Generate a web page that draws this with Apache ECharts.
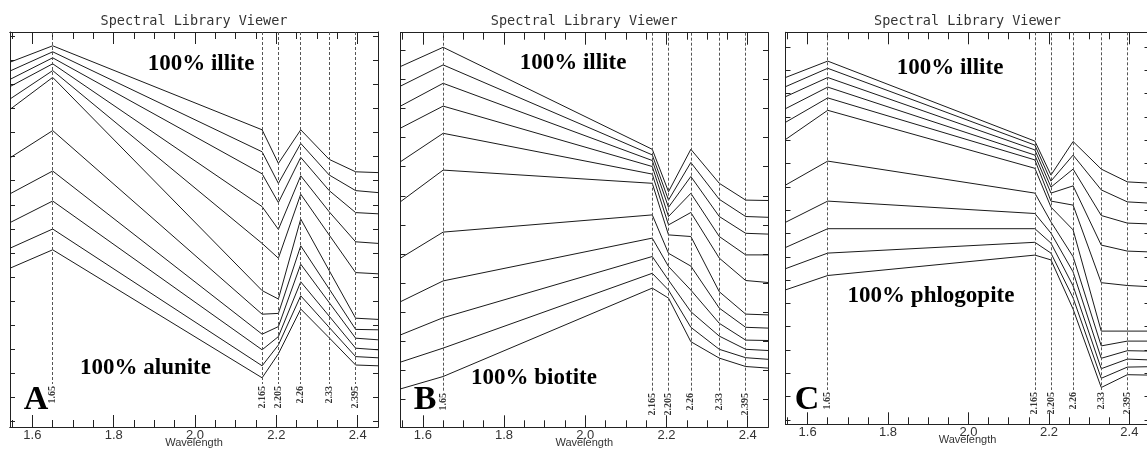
<!DOCTYPE html>
<html>
<head>
<meta charset="utf-8">
<script src="https://cdn.jsdelivr.net/npm/echarts@6.0.0/dist/echarts.min.js"></script>
<style>
  html, body { margin: 0; padding: 0; background: #fff; }
  #chart { width: 1147px; height: 450px; }
</style>
</head>
<body>
<div id="chart"></div>
<script>
/* ================= 数据 ================= */
// sample wavelengths (µm); first / last are where the spectra leave the frame
const wavelengths = [1.545, 1.65, 2.165, 2.205, 2.26, 2.33, 2.395, 2.45];
const bands = [1.65, 2.165, 2.205, 2.26, 2.33, 2.395];
const bandLabels = ["1.65", "2.165", "2.205", "2.26", "2.33", "2.395"];
const xTickLabels = [1.6, 1.8, 2.0, 2.2, 2.4];
const xMinorTicks = [1.55, 1.6, 1.65, 1.7, 1.75, 1.8, 1.85, 1.9, 1.95, 2.0,
  2.05, 2.1, 2.15, 2.2, 2.25, 2.3, 2.35, 2.4];

// 100% illite (top) -> 100% alunite (bottom), 10% steps, stacked reflectance (arb.)
const illiteAlunite = [
  [91.2, 95.3, 74.3, 65.9, 74.3, 66.9, 63.8, 63.6],
  [89.0, 93.8, 68.8, 60.9, 70.9, 63.0, 59.1, 58.6],
  [86.9, 92.3, 63.3, 56.1, 67.4, 59.1, 53.6, 53.3],
  [85.1, 90.8, 55.1, 49.4, 62.8, 53.8, 46.3, 45.9],
  [82.0, 89.1, 45.9, 42.2, 58.2, 48.0, 38.6, 38.3],
  [79.4, 87.4, 34.1, 32.0, 52.0, 39.1, 27.2, 26.9],
  [67.3, 74.1, 28.2, 28.4, 45.3, 34.5, 24.4, 24.3],
  [58.3, 64.0, 23.2, 25.1, 40.7, 31.1, 22.2, 21.8],
  [51.1, 56.5, 19.3, 22.6, 36.3, 27.7, 19.7, 19.3],
  [44.7, 49.5, 15.3, 20.5, 32.8, 24.9, 17.6, 17.3],
  [39.7, 44.3, 12.3, 18.3, 29.5, 22.3, 15.5, 15.3],
];

// 100% illite -> 100% biotite
const illiteBiotite = [
  [90.2, 95.0, 69.5, 58.9, 69.5, 61.0, 56.8, 56.7],
  [85.3, 90.6, 68.1, 56.8, 66.2, 57.0, 52.7, 52.5],
  [80.3, 86.0, 66.7, 55.0, 62.7, 52.7, 48.5, 48.3],
  [74.8, 80.3, 65.2, 52.7, 58.5, 47.7, 43.1, 43.1],
  [66.4, 73.5, 63.3, 50.6, 53.7, 42.3, 36.7, 36.2],
  [56.4, 64.3, 61.0, 48.1, 47.7, 33.9, 28.3, 28.1],
  [42.3, 48.8, 53.1, 43.5, 40.3, 29.8, 25.0, 24.8],
  [31.4, 36.6, 47.3, 40.2, 34.3, 26.0, 21.8, 21.7],
  [23.1, 27.4, 42.7, 36.8, 28.9, 22.8, 19.5, 19.2],
  [16.3, 19.8, 38.5, 34.3, 25.0, 19.5, 17.4, 17.0],
  [9.6, 12.7, 34.8, 32.3, 21.4, 17.3, 15.2, 14.8],
];

// 100% illite -> 100% phlogopite
const illitePhlogopite = [
  [86.7, 90.8, 70.8, 62.3, 70.7, 63.8, 60.6, 60.3],
  [84.4, 89.0, 69.8, 60.8, 67.3, 58.6, 55.6, 55.3],
  [81.9, 86.7, 68.6, 59.3, 63.8, 52.2, 50.3, 50.1],
  [78.9, 84.3, 67.3, 57.8, 59.6, 44.8, 43.3, 43.1],
  [75.5, 81.6, 66.1, 55.8, 54.8, 35.4, 34.7, 34.4],
  [71.2, 78.5, 64.0, 54.3, 48.6, 23.3, 23.3, 23.3],
  [59.8, 65.8, 57.8, 50.6, 41.9, 19.6, 20.8, 20.8],
  [50.5, 55.8, 52.7, 47.8, 38.1, 16.5, 18.4, 18.3],
  [44.2, 48.9, 48.9, 45.3, 34.6, 13.9, 16.3, 16.1],
  [38.9, 42.8, 45.5, 42.8, 31.6, 11.5, 14.3, 14.4],
  [33.6, 37.2, 42.3, 41.1, 28.8, 9.2, 12.4, 12.3],
];

/* ================= 面板布局 ================= */
const xMin = 1.545;
const xMax = 2.45;

const panels = [
  {
    letter: "A", lines: illiteAlunite, endText: "100% alunite",
    left: 10, top: 32, width: 368, height: 395, yMax: 98.75,
    tickStart: 1.33, tickStep: 6.025, tickCount: 17,
    dashEnd: 10.75, bandLabelY: 10.25,
    topPos: [201, 64], endPos: [145.5, 368], letterPos: [36, 400],
  },
  {
    letter: "B", lines: illiteBiotite, endText: "100% biotite",
    left: 400.5, top: 32.7, width: 367.5, height: 394.6, yMax: 98.65,
    tickStart: 6.95, tickStep: 7.275, tickCount: 13,
    dashEnd: 9.08, bandLabelY: 8.58,
    topPos: [573, 63], endPos: [534, 378], letterPos: [425, 400],
  },
  {
    letter: "C", lines: illitePhlogopite, endText: "100% phlogopite",
    left: 785.5, top: 32.3, width: 364, height: 392, yMax: 98.0,
    tickStart: 1.1, tickStep: 5.825, tickCount: 17,
    dashEnd: 8.58, bandLabelY: 8.08,
    topPos: [950, 68], endPos: [931, 296], letterPos: [807, 400],
  },
];

const frameColor = "#222";

/* ================= 坐标轴工厂 ================= */
function makeX(gridIndex, position, tickLen, tickValues, withLabel) {
  return {
    type: "value",
    gridIndex,
    position,
    min: xMin,
    max: xMax,
    splitLine: { show: false },
    axisLine: { onZero: false, lineStyle: { color: frameColor, width: 1 } },
    axisTick: {
      inside: true,
      length: tickLen,
      customValues: tickValues,
      lineStyle: { color: frameColor, width: 1 },
    },
    axisLabel: withLabel
      ? {
          customValues: xTickLabels,
          margin: 2,
          fontFamily: "Liberation Sans",
          fontSize: 13,
          color: "#333",
          formatter: (v) => v.toFixed(1),
        }
      : { show: false },
    name: withLabel ? "Wavelength" : "",
    nameLocation: "middle",
    nameGap: 10,
    nameMoveOverlap: false,
    nameTextStyle: {
      fontFamily: "Liberation Sans",
      fontSize: 11,
      color: "#333",
      verticalAlign: "top",
    },
  };
}

function makeY(gridIndex, position, p) {
  const ticks = [];
  for (let k = 0; k < p.tickCount; k++) ticks.push(+(p.tickStart + k * p.tickStep).toFixed(3));
  return {
    type: "value",
    gridIndex,
    position,
    min: 0,
    max: p.yMax,
    splitLine: { show: false },
    axisLabel: { show: false },
    axisLine: { onZero: false, lineStyle: { color: frameColor, width: 1 } },
    axisTick: {
      inside: true,
      length: 5,
      customValues: ticks,
      lineStyle: { color: frameColor, width: 1 },
    },
  };
}

/* ================= 组装 ================= */
const grid = [];
const xAxis = [];
const yAxis = [];
const series = [];
const graphic = [];

panels.forEach((p, i) => {
  grid.push({
    left: p.left,
    top: p.top,
    width: p.width,
    height: p.height,
    containLabel: false,
    outerBoundsMode: "none",
  });

  xAxis.push(makeX(i, "bottom", 12, xTickLabels, true));
  xAxis.push(makeX(i, "bottom", 7, xMinorTicks, false));
  xAxis.push(makeX(i, "top", 12, xTickLabels, false));
  xAxis.push(makeX(i, "top", 7, xMinorTicks, false));
  yAxis.push(makeY(i, "left", p));
  yAxis.push(makeY(i, "right", p));

  const xi = i * 4;
  const yi = i * 2;

  p.lines.forEach((vals, j) => {
    const s = {
      type: "line",
      xAxisIndex: xi,
      yAxisIndex: yi,
      data: wavelengths.map((w, k) => [w, vals[k]]),
      symbol: "none",
      silent: true,
      lineStyle: { color: "#1a1a1a", width: 1 },
    };
    // 吸收带虚线
    if (j === 0) {
      s.markLine = {
        silent: true,
        symbol: "none",
        label: { show: false },
        lineStyle: { type: [3, 2], color: "#555", width: 1 },
        data: bands.map((b) => [{ coord: [b, p.yMax] }, { coord: [b, p.dashEnd] }]),
      };
    }
    series.push(s);
  });

  // 吸收带标签（竖排）
  series.push({
    type: "scatter",
    xAxisIndex: xi,
    yAxisIndex: yi,
    symbolSize: 1,
    silent: true,
    itemStyle: { color: "rgba(0,0,0,0)" },
    data: bands.map((b, k) => ({ value: [b, p.bandLabelY], name: bandLabels[k] })),
    label: {
      show: true,
      position: "inside",
      rotate: 90,
      align: "right",
      verticalAlign: "middle",
      formatter: "{b}",
      fontFamily: "Liberation Serif",
      fontWeight: "bold",
      fontSize: 10,
      color: "#000",
    },
  });

  // 标题 / 注释
  graphic.push({
    type: "text",
    x: p.left + p.width / 2,
    y: 21.5,
    style: {
      text: "Spectral Library Viewer",
      font: "13.5px 'DejaVu Sans Mono'",
      fill: "#333",
      align: "center",
      verticalAlign: "middle",
    },
  });
  graphic.push({
    type: "text",
    x: p.topPos[0],
    y: p.topPos[1],
    style: {
      text: "100% illite",
      font: "bold 23px 'Liberation Serif'",
      fill: "#000",
      align: "center",
      verticalAlign: "middle",
    },
  });
  graphic.push({
    type: "text",
    x: p.endPos[0],
    y: p.endPos[1],
    style: {
      text: p.endText,
      font: "bold 23px 'Liberation Serif'",
      fill: "#000",
      align: "center",
      verticalAlign: "middle",
    },
  });
  graphic.push({
    type: "text",
    x: p.letterPos[0],
    y: p.letterPos[1],
    style: {
      text: p.letter,
      font: "bold 34px 'Liberation Serif'",
      fill: "#000",
      align: "center",
      verticalAlign: "middle",
    },
  });
});

const chart = echarts.init(document.getElementById("chart"), null, { renderer: "canvas" });
chart.setOption({
  animation: false,
  backgroundColor: "#fff",
  grid,
  xAxis,
  yAxis,
  series,
  graphic,
});
</script>
</body>
</html>
